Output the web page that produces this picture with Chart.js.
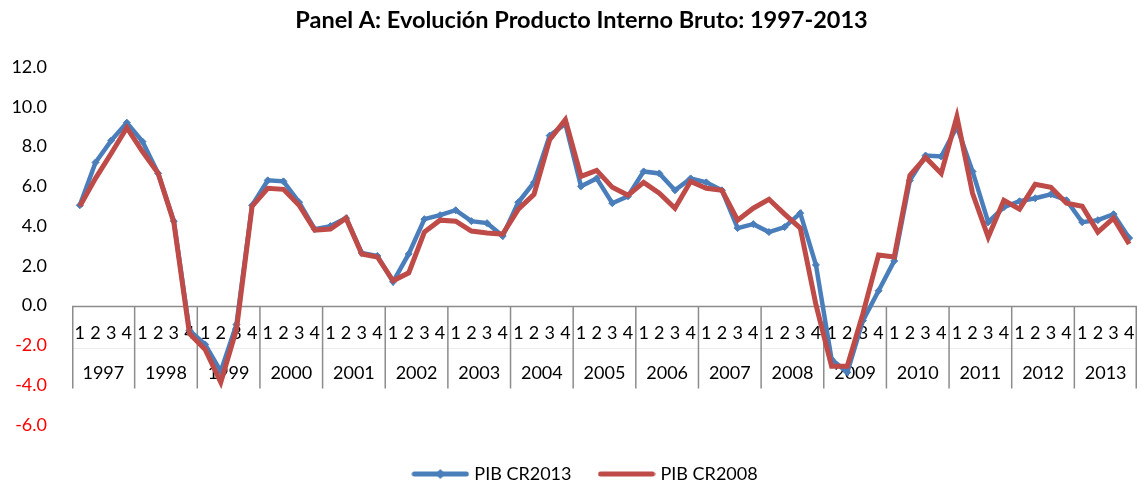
<!DOCTYPE html>
<html>
<head>
<meta charset="utf-8">
<script src="https://cdn.jsdelivr.net/npm/chart.js@4"></script>
<style>
  html, body { margin: 0; padding: 0; background: #ffffff; }
  #wrap { width: 1142px; height: 487px; }
</style>
</head>
<body>
<div id="wrap"><canvas id="c" width="1142" height="487"></canvas></div>
<script>
const chartTitle = 'Panel A: Evolución Producto Interno Bruto: 1997-2013';
const years = ['1997','1998','1999','2000','2001','2002','2003','2004','2005','2006','2007','2008','2009','2010','2011','2012','2013'];
const quarters = ['1','2','3','4'];
const seriesNames = ['PIB CR2013', 'PIB CR2008'];
const yTicks = [-6, -4, -2, 0, 2, 4, 6, 8, 10, 12];

const pibCR2013 = [
  5.05, 7.2, 8.3, 9.2,
  8.25, 6.65, 4.25, -1.25,
  -1.95, -3.3, -0.95, 5.05,
  6.3, 6.25, 5.2, 3.85,
  4.0, 4.4, 2.65, 2.5,
  1.2, 2.6, 4.35, 4.55,
  4.8, 4.25, 4.15, 3.5,
  5.2, 6.2, 8.55, 9.15,
  6.0, 6.4, 5.15, 5.5,
  6.75, 6.65, 5.8, 6.4,
  6.2, 5.8, 3.9, 4.1,
  3.7, 3.95, 4.65, 2.05,
  -2.7, -3.35, -0.75, 0.75,
  2.25, 6.3, 7.55, 7.5,
  9.0, 6.75, 4.2, 4.95,
  5.25, 5.4, 5.6, 5.3,
  4.2, 4.3, 4.6, 3.4
];
const pibCR2008 = [
  5.0, 6.4, 7.65, 8.95,
  7.75, 6.65, 4.2, -1.4,
  -2.2, -3.85, -1.2, 5.0,
  5.9, 5.85, 5.05, 3.8,
  3.85, 4.4, 2.6, 2.45,
  1.25, 1.65, 3.7, 4.3,
  4.25, 3.75, 3.65, 3.6,
  4.85, 5.6, 8.35, 9.35,
  6.5, 6.8, 5.95, 5.55,
  6.2, 5.65, 4.9, 6.25,
  5.9, 5.8, 4.3, 4.9,
  5.35, 4.6, 3.9, 0.05,
  -3.05, -3.05, -0.4, 2.55,
  2.45, 6.55, 7.45, 6.65,
  9.5, 5.65, 3.45, 5.3,
  4.85, 6.1, 5.95, 5.15,
  5.0, 3.7, 4.4, 3.1
];

const BLUE = '#4A7EBB';
const RED = '#BE4B48';
const FONT = 'Lato';

const labels = [];
years.forEach(y => quarters.forEach(q => labels.push(y + '-' + q)));

function legendSwatch(color, withMarker) {
  const cv = document.createElement('canvas');
  cv.width = 58; cv.height = 12;
  const g = cv.getContext('2d');
  g.strokeStyle = color; g.lineWidth = 5; g.lineCap = 'round';
  g.beginPath(); g.moveTo(3, 6); g.lineTo(55, 6); g.stroke();
  if (withMarker) {
    g.fillStyle = color;
    g.beginPath(); g.moveTo(29, 1); g.lineTo(34, 6); g.lineTo(29, 11); g.lineTo(24, 6); g.closePath(); g.fill();
  }
  return cv;
}
const swatches = [legendSwatch(BLUE, true), legendSwatch(RED, false)];

const categoryTable = {
  id: 'categoryTable',
  afterLayout(chart) {
    // nudge title and legend horizontally to the reference's centre line
    if (chart.titleBlock) { chart.titleBlock.left += 6; chart.titleBlock.right += 6; }
    if (chart.legend) { chart.legend.left += 11; chart.legend.right += 11; }
  },
  beforeDatasetsDraw(chart) {
    const xs = chart.scales.x, ys = chart.scales.y, ctx = chart.ctx;
    const y0 = Math.round(ys.getPixelForValue(0)) + 0.5;
    const left = chart.chartArea.left, right = chart.chartArea.right;
    const n = labels.length;
    const step = (right - left) / n;
    ctx.save();
    ctx.strokeStyle = '#ececec'; ctx.lineWidth = 1;
    ctx.beginPath(); ctx.moveTo(left, y0 + 42); ctx.lineTo(right, y0 + 42); ctx.stroke();
    ctx.strokeStyle = '#8c8c8c'; ctx.lineWidth = 1.5;
    ctx.beginPath(); ctx.moveTo(left, y0); ctx.lineTo(right, y0); ctx.stroke();
    for (let g = 0; g <= years.length; g++) {
      let x = left + g * quarters.length * step;
      if (g === years.length) x = right - 0.75;
      if (g === 0) x = left + 0.75;
      ctx.beginPath(); ctx.moveTo(x, y0); ctx.lineTo(x, y0 + 82); ctx.stroke();
    }
    ctx.fillStyle = '#000000';
    ctx.font = '18px ' + FONT;
    ctx.textAlign = 'center'; ctx.textBaseline = 'middle';
    labels.forEach((lab, i) => {
      const x = xs.getPixelForValue(i);
      ctx.fillText(quarters[i % quarters.length], x, y0 + 27);
    });
    years.forEach((yr, g) => {
      const xa = xs.getPixelForValue(g * 4), xb = xs.getPixelForValue(g * 4 + 3);
      ctx.fillText(yr, (xa + xb) / 2, y0 + 67);
    });
    ctx.restore();
  }
};

new Chart(document.getElementById('c'), {
  type: 'line',
  data: {
    labels: labels,
    datasets: [
      {
        label: seriesNames[0], data: pibCR2013,
        borderColor: BLUE, backgroundColor: BLUE, borderWidth: 4.5,
        pointStyle: 'rectRot', pointRadius: 3.5, pointBorderWidth: 1,
        pointBackgroundColor: BLUE, pointBorderColor: BLUE,
        tension: 0, order: 1
      },
      {
        label: seriesNames[1], data: pibCR2008,
        borderColor: RED, backgroundColor: RED, borderWidth: 5,
        pointRadius: 0, tension: 0, order: 0
      }
    ]
  },
  options: {
    responsive: false,
    animation: false,
    layout: { padding: { left: 10, right: 1, top: 0, bottom: -6 } },
    scales: {
      x: { type: 'category', offset: true, display: false },
      y: {
        min: -6, max: 12,
        afterFit(s) { s.width = 62; },
        afterBuildTicks(s) { s.ticks = yTicks.map(v => ({ value: v })); },
        grid: { display: false, drawTicks: false },
        border: { display: false },
        ticks: {
          padding: 25,
          font: { family: FONT, size: 18 },
          color: c => (c.tick.value < 0 ? '#FF0000' : '#000000'),
          callback: v => Number(v).toFixed(1)
        }
      }
    },
    plugins: {
      title: {
        display: true, text: chartTitle, color: '#000000',
        font: { family: FONT, size: 23.5, weight: 'bold' },
        padding: { top: 6, bottom: 32.8 }
      },
      legend: {
        position: 'bottom',
        title: { display: true, text: '', font: { size: 1 }, padding: { top: 0, bottom: 8.8 } },
        labels: {
          usePointStyle: true, pointStyleWidth: 50, boxHeight: 12,
          padding: 30, color: '#000000',
          font: { family: FONT, size: 18 },
          sort: (a, b) => a.datasetIndex - b.datasetIndex,
          generateLabels(chart) {
            const items = Chart.defaults.plugins.legend.labels.generateLabels(chart);
            items.forEach(it => { it.pointStyle = swatches[it.datasetIndex]; });
            return items;
          }
        }
      },
      tooltip: { enabled: false }
    }
  },
  plugins: [categoryTable]
});
</script>
</body>
</html>
